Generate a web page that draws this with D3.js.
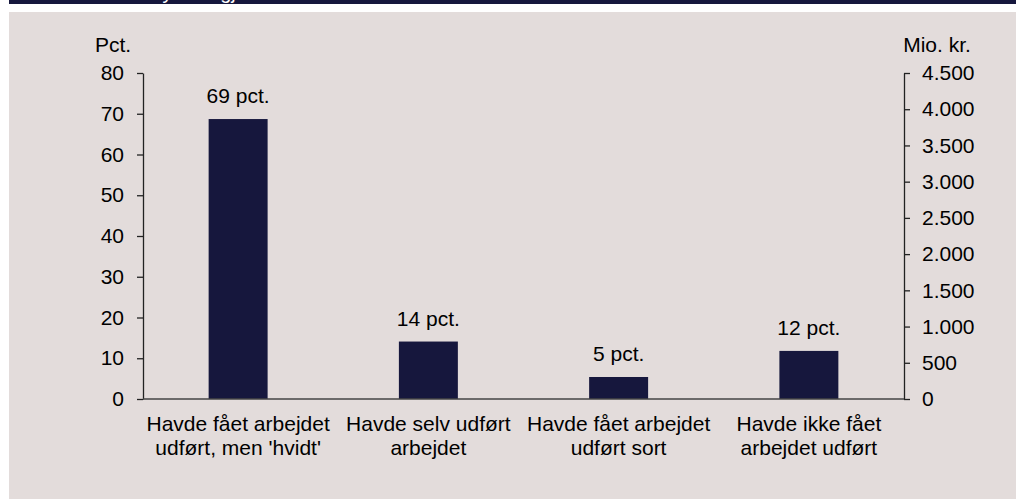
<!DOCTYPE html>
<html>
<head>
<meta charset="utf-8">
<script src="https://cdn.jsdelivr.net/npm/d3@7"></script>
<style>
  body { margin: 0; background: #fff; }
  svg text { font-family: "Liberation Sans", Arial, sans-serif; fill: #000; }
</style>
</head>
<body>
<svg id="chart" width="1016" height="499"></svg>
<script>
"use strict";

// data
const categories = [
  ["Havde fået arbejdet", "udført, men 'hvidt'"],
  ["Havde selv udført", "arbejdet"],
  ["Havde fået arbejdet", "udført sort"],
  ["Havde ikke fået", "arbejdet udført"]
];
const shares = [68.7, 14.1, 5.4, 11.8];
const leftTicks = [0, 10, 20, 30, 40, 50, 60, 70, 80];
const rightTicks = [0, 500, 1000, 1500, 2000, 2500, 3000, 3500, 4000, 4500];
const title = "Anvendelse af nye boligjob";

const W = 1016, H = 499;
const navy = "#16173d";
const panel = "#e3dcdb";
const fs = 21;

const svg = d3.select("#chart");

// header band (title mostly cut off above the top edge) + panel
svg.append("rect").attr("x", 9).attr("y", 0).attr("width", W - 9).attr("height", 4).attr("fill", navy);
svg.append("text").attr("x", 19).attr("y", -1).style("font-size", "20px").style("fill", "#fff").text(title);
svg.append("rect").attr("x", 9).attr("y", 12).attr("width", W - 9).attr("height", H - 12).attr("fill", panel);

const x0 = 143, x1 = 904, yBase = 399, yTop = 73;

const x = d3.scaleBand().domain(d3.range(categories.length)).range([x0, x1]).paddingInner(0.69).paddingOuter(0.345);
const y = d3.scaleLinear().domain([0, 80]).range([yBase, yTop]);
const y2 = d3.scaleLinear().domain([0, 4500]).range([yBase, yTop]);

// bars
svg.append("g").selectAll("rect").data(shares).join("rect")
  .attr("x", (d, i) => x(i))
  .attr("y", d => y(d))
  .attr("width", x.bandwidth())
  .attr("height", d => yBase - y(d))
  .attr("fill", navy);

// value labels
svg.append("g").selectAll("text").data(shares).join("text")
  .attr("x", (d, i) => x(i) + x.bandwidth() / 2)
  .attr("y", d => y(d) - 16)
  .attr("text-anchor", "middle")
  .style("font-size", fs + "px")
  .text(d => d3.format(".0f")(d) + " pct.");

// left axis
const gl = svg.append("g").attr("transform", `translate(${x0},0)`)
  .call(d3.axisLeft(y).tickValues(leftTicks).tickSize(6).tickSizeOuter(0).tickPadding(13));
// right axis
const gr = svg.append("g").attr("transform", `translate(${x1},0)`)
  .call(d3.axisRight(y2).tickValues(rightTicks).tickSize(6).tickSizeOuter(0).tickPadding(12)
    .tickFormat(d => d3.format(",")(d).replace(/,/g, ".")));

[gl, gr].forEach(g => {
  g.select(".domain").attr("stroke", "#222").attr("stroke-width", 1.3);
  g.selectAll(".tick line").attr("stroke", "#222").attr("stroke-width", 1.3);
  g.selectAll(".tick text").style("font-size", fs + "px").attr("fill", "#000")
    .style("font-family", "'Liberation Sans', Arial, sans-serif");
});

// x baseline
svg.append("line").attr("x1", x0).attr("x2", x1).attr("y1", yBase).attr("y2", yBase)
  .attr("stroke", "#444").attr("stroke-width", 1.3);

// category labels
const cl = svg.append("g").selectAll("text").data(categories).join("text")
  .attr("x", (d, i) => x(i) + x.bandwidth() / 2)
  .attr("y", 431)
  .attr("text-anchor", "middle")
  .style("font-size", fs + "px");
cl.selectAll("tspan").data(d => d).join("tspan")
  .attr("x", function() { return this.parentNode.getAttribute("x"); })
  .attr("dy", (d, i) => i === 0 ? 0 : 24)
  .text(d => d);

// axis titles
svg.append("text").attr("x", 113).attr("y", 52).attr("text-anchor", "middle").style("font-size", fs + "px").text("Pct.");
svg.append("text").attr("x", 937).attr("y", 52).attr("text-anchor", "middle").style("font-size", fs + "px").text("Mio. kr.");
</script>
</body>
</html>
